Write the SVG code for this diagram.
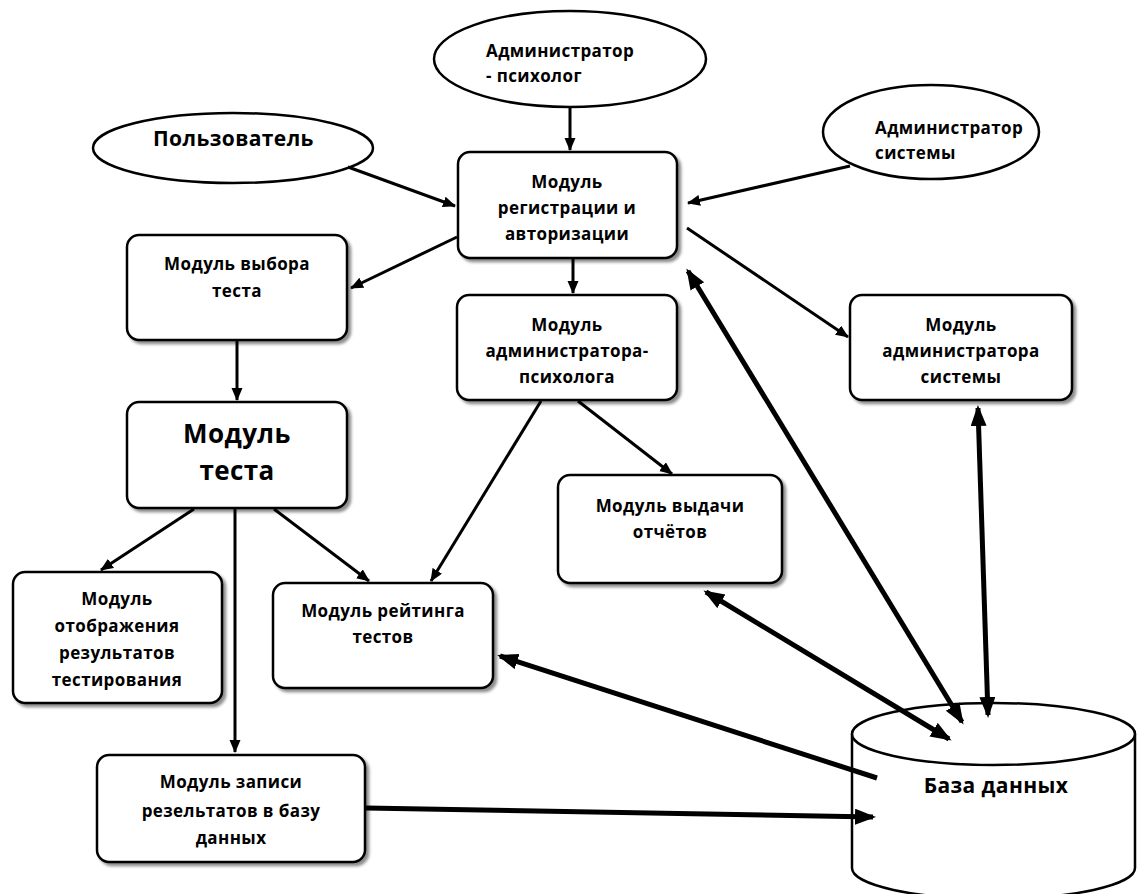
<svg xmlns="http://www.w3.org/2000/svg" width="1137" height="894" viewBox="0 0 1137 894">
<defs>
<filter id="sh" x="-10%" y="-10%" width="130%" height="130%">
<feDropShadow dx="3" dy="3" stdDeviation="1.5" flood-color="#000" flood-opacity="0.45"/>
</filter>
<marker id="a" markerUnits="userSpaceOnUse" markerWidth="14" markerHeight="12" refX="12" refY="5.5" orient="auto-start-reverse" viewBox="0 0 14 12">
<path d="M0,0 L13,5.5 L0,11 z" fill="#000"/>
</marker>
<marker id="b" markerUnits="userSpaceOnUse" markerWidth="22" markerHeight="18" refX="18" refY="8" orient="auto-start-reverse" viewBox="0 0 22 18">
<path d="M0,0 L21,8 L0,16 z" fill="#000"/>
</marker>
<style>
.box{fill:#fff;stroke:#000;stroke-width:2.5;filter:url(#sh)}
.ell{fill:#fff;stroke:#000;stroke-width:2.5}
.t{font-family:"Open Sans","Liberation Sans",sans-serif;font-weight:700;font-size:17px;letter-spacing:0.4px;fill:#000;text-anchor:middle}
.l{text-anchor:start}
.thin{stroke:#000;stroke-width:3;fill:none;marker-end:url(#a)}
.thick{stroke:#000;stroke-width:5;fill:none}
</style>
</defs>
<rect width="1137" height="894" fill="#fff"/>

<g id="actor-psych">
<ellipse class="ell" cx="570" cy="59" rx="136" ry="48"/>
<text class="t l" x="486" y="57">Администратор</text>
<text class="t l" x="486" y="82">- психолог</text>
</g>
<g id="actor-user">
<ellipse class="ell" cx="233" cy="148" rx="140" ry="35"/>
<text class="t l" x="153" y="146" style="font-size:21px">Пользователь</text>
</g>
<g id="actor-sysadmin">
<ellipse class="ell" cx="931" cy="132" rx="108" ry="47"/>
<text class="t l" x="875" y="134">Администратор</text>
<text class="t l" x="875" y="159">системы</text>
</g>

<g id="mod-auth">
<rect class="box" x="458" y="152" width="219" height="106" rx="12"/>
<text class="t" x="567" y="188">Модуль</text>
<text class="t" x="567" y="214">регистрации и</text>
<text class="t" x="567" y="240">авторизации</text>
</g>
<g id="mod-select">
<rect class="box" x="127" y="235" width="220" height="105" rx="12"/>
<text class="t" x="237" y="270">Модуль выбора</text>
<text class="t" x="237" y="297">теста</text>
</g>
<g id="mod-test">
<rect class="box" x="127" y="402" width="220" height="106" rx="12"/>
<text class="t" x="237" y="443" style="font-size:26px">Модуль</text>
<text class="t" x="237" y="480" style="font-size:26px">теста</text>
</g>
<g id="mod-psych">
<rect class="box" x="457" y="295" width="220" height="105" rx="12"/>
<text class="t" x="567" y="331">Модуль</text>
<text class="t" x="567" y="357">администратора-</text>
<text class="t" x="567" y="383">психолога</text>
</g>
<g id="mod-sysadmin">
<rect class="box" x="850" y="295" width="222" height="105" rx="12"/>
<text class="t" x="961" y="331">Модуль</text>
<text class="t" x="961" y="357">администратора</text>
<text class="t" x="961" y="383">системы</text>
</g>
<g id="mod-reports">
<rect class="box" x="558" y="475" width="224" height="108" rx="12"/>
<text class="t" x="670" y="512">Модуль выдачи</text>
<text class="t" x="670" y="538">отчётов</text>
</g>
<g id="mod-display">
<rect class="box" x="13" y="572" width="209" height="131" rx="12"/>
<text class="t" x="117" y="605">Модуль</text>
<text class="t" x="117" y="632">отображения</text>
<text class="t" x="117" y="659">результатов</text>
<text class="t" x="117" y="686">тестирования</text>
</g>
<g id="mod-rating">
<rect class="box" x="273" y="583" width="220" height="105" rx="12"/>
<text class="t" x="383" y="617">Модуль рейтинга</text>
<text class="t" x="383" y="643">тестов</text>
</g>
<g id="mod-write">
<rect class="box" x="97" y="755" width="268" height="107" rx="12"/>
<text class="t" x="231" y="788">Модуль записи</text>
<text class="t" x="231" y="817">резельтатов в базу</text>
<text class="t" x="231" y="844">данных</text>
</g>
<g id="database">
<path d="M852,734 L852,868 A141.5,31 0 0 0 1135,868 L1135,734" fill="#fff" stroke="#000" stroke-width="2.5"/>
<ellipse cx="993.5" cy="734" rx="141.5" ry="31" fill="#fff" stroke="#000" stroke-width="2.5"/>
<text class="t" x="996" y="793" style="font-size:21px">База данных</text>
</g>

<g id="connectors">
<line class="thin" x1="570" y1="107" x2="570" y2="150"/>
<line class="thin" x1="348" y1="167" x2="455" y2="206"/>
<line class="thin" x1="850" y1="166" x2="688" y2="203"/>
<line class="thin" x1="457" y1="237" x2="351" y2="288"/>
<line class="thin" x1="573" y1="258" x2="573" y2="293"/>
<line class="thin" x1="687" y1="228" x2="848" y2="337"/>
<line class="thin" x1="237" y1="340" x2="237" y2="400"/>
<line class="thin" x1="194" y1="509" x2="101" y2="570"/>
<line class="thin" x1="274" y1="509" x2="369" y2="581"/>
<line class="thin" x1="235" y1="509" x2="235" y2="752"/>
<line class="thin" x1="541" y1="401" x2="431" y2="581"/>
<line class="thin" x1="578" y1="401" x2="672" y2="474"/>
<line class="thick" x1="688" y1="271" x2="962" y2="722" marker-start="url(#b)" marker-end="url(#b)"/>
<line class="thick" x1="706" y1="592" x2="949" y2="739" marker-start="url(#b)" marker-end="url(#b)"/>
<line class="thick" x1="978" y1="408" x2="988" y2="715" marker-start="url(#b)" marker-end="url(#b)"/>
<line class="thick" x1="500" y1="656" x2="877" y2="778" marker-start="url(#b)"/>
<line class="thick" x1="366" y1="808" x2="873" y2="817" marker-end="url(#b)"/>
</g>
</svg>
